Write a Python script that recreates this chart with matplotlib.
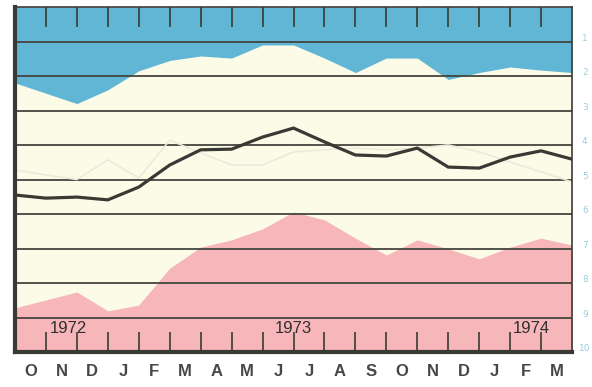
import matplotlib
matplotlib.use("Agg")
import matplotlib.pyplot as plt
import numpy as np

# Month boundaries Oct 1972 .. Mar 1974 (0 = start of Oct 1972)
months = ["O", "N", "D", "J", "F", "M", "A", "M", "J", "J", "A", "S",
          "O", "N", "D", "J", "F", "M"]
years = ["1972", "1973", "1974"]
year_pos = [1.72, 9.0, 16.7]

# Upper band boundary (blue above), lower band boundary (pink below)
upper_band = [2.2, 2.5, 2.8, 2.4, 1.85, 1.55, 1.42, 1.48, 1.1, 1.1,
              1.48, 1.9, 1.48, 1.48, 2.1, 1.9, 1.74, 1.83, 1.9]
lower_band = [8.72, 8.49, 8.26, 8.81, 8.64, 7.57, 6.96, 6.75, 6.43, 5.94,
              6.17, 6.7, 7.19, 6.75, 7.01, 7.3, 6.96, 6.7, 6.9]
# Main series and faint comparison series
main_series = [5.45, 5.54, 5.51, 5.59, 5.22, 4.58, 4.14, 4.12, 3.77, 3.51,
               3.91, 4.29, 4.32, 4.09, 4.64, 4.67, 4.35, 4.17, 4.41]
faint_series = [4.72, 4.87, 5.0, 4.43, 4.96, 3.86, 4.23, 4.58, 4.58, 4.2,
                4.14, 4.09, 4.14, 4.09, 4.0, 4.2, 4.49, 4.78, 5.07]
scale_labels = [str(i) for i in range(1, 11)]

x = np.arange(len(main_series))

fig = plt.figure(figsize=(5.92, 3.87), dpi=100)
fig.patch.set_facecolor("white")
ax = fig.add_axes([15 / 592, 1 - 352 / 387, 557 / 592, 345 / 387])
ax.set_facecolor("#fbfbe7")

blue = "#62b6d5"
pink = "#f6b6ba"
dark = "#3a3a35"

ax.fill_between(x, 0, upper_band, color=blue, lw=0, zorder=1)
ax.fill_between(x, lower_band, 10, color=pink, lw=0, zorder=1)

for yv in range(1, 10):
    ax.axhline(yv, color="#45453e", lw=1.3, zorder=2)

ax.plot(x, faint_series, color="#ebebdc", lw=1.2, zorder=3)
ax.plot(x, main_series, color=dark, lw=2.3, zorder=4, solid_joinstyle="miter")

ax.set_xlim(0, 18)
ax.set_ylim(10, 0)

# Month ticks (top and bottom) and centred month labels
ax.set_xticks(range(1, 18))
ax.set_xticklabels([])
ax.tick_params(axis="x", which="major", direction="in", length=14.5,
               width=1.2, color=dark, top=True, bottom=True)
ax.set_xticks(np.arange(len(months)) + 0.5, minor=True)
ax.set_xticklabels(months, minor=True, fontsize=12, color="#474747",
                   family="Liberation Sans", fontweight="bold")
ax.tick_params(axis="x", which="minor", length=0, pad=9)
ax.set_yticks([])

for lbl, xp in zip(years, year_pos):
    ax.text(xp, 9.33, lbl, ha="center", va="center", fontsize=12,
            color="#2f2f2f", family="Liberation Sans", zorder=5)

for i, lbl in enumerate(scale_labels, start=1):
    ax.text(1.023, 1 - i / 10 + 0.01, lbl, transform=ax.transAxes,
            ha="center", va="center", fontsize=6.5, color="#95cfe4")

for side, lw in (("left", 3.0), ("bottom", 3.0), ("top", 1.2), ("right", 1.2)):
    ax.spines[side].set_linewidth(lw)
    ax.spines[side].set_color(dark)
    ax.spines[side].set_zorder(6)

fig.savefig("out.png", dpi=100, facecolor="white")
